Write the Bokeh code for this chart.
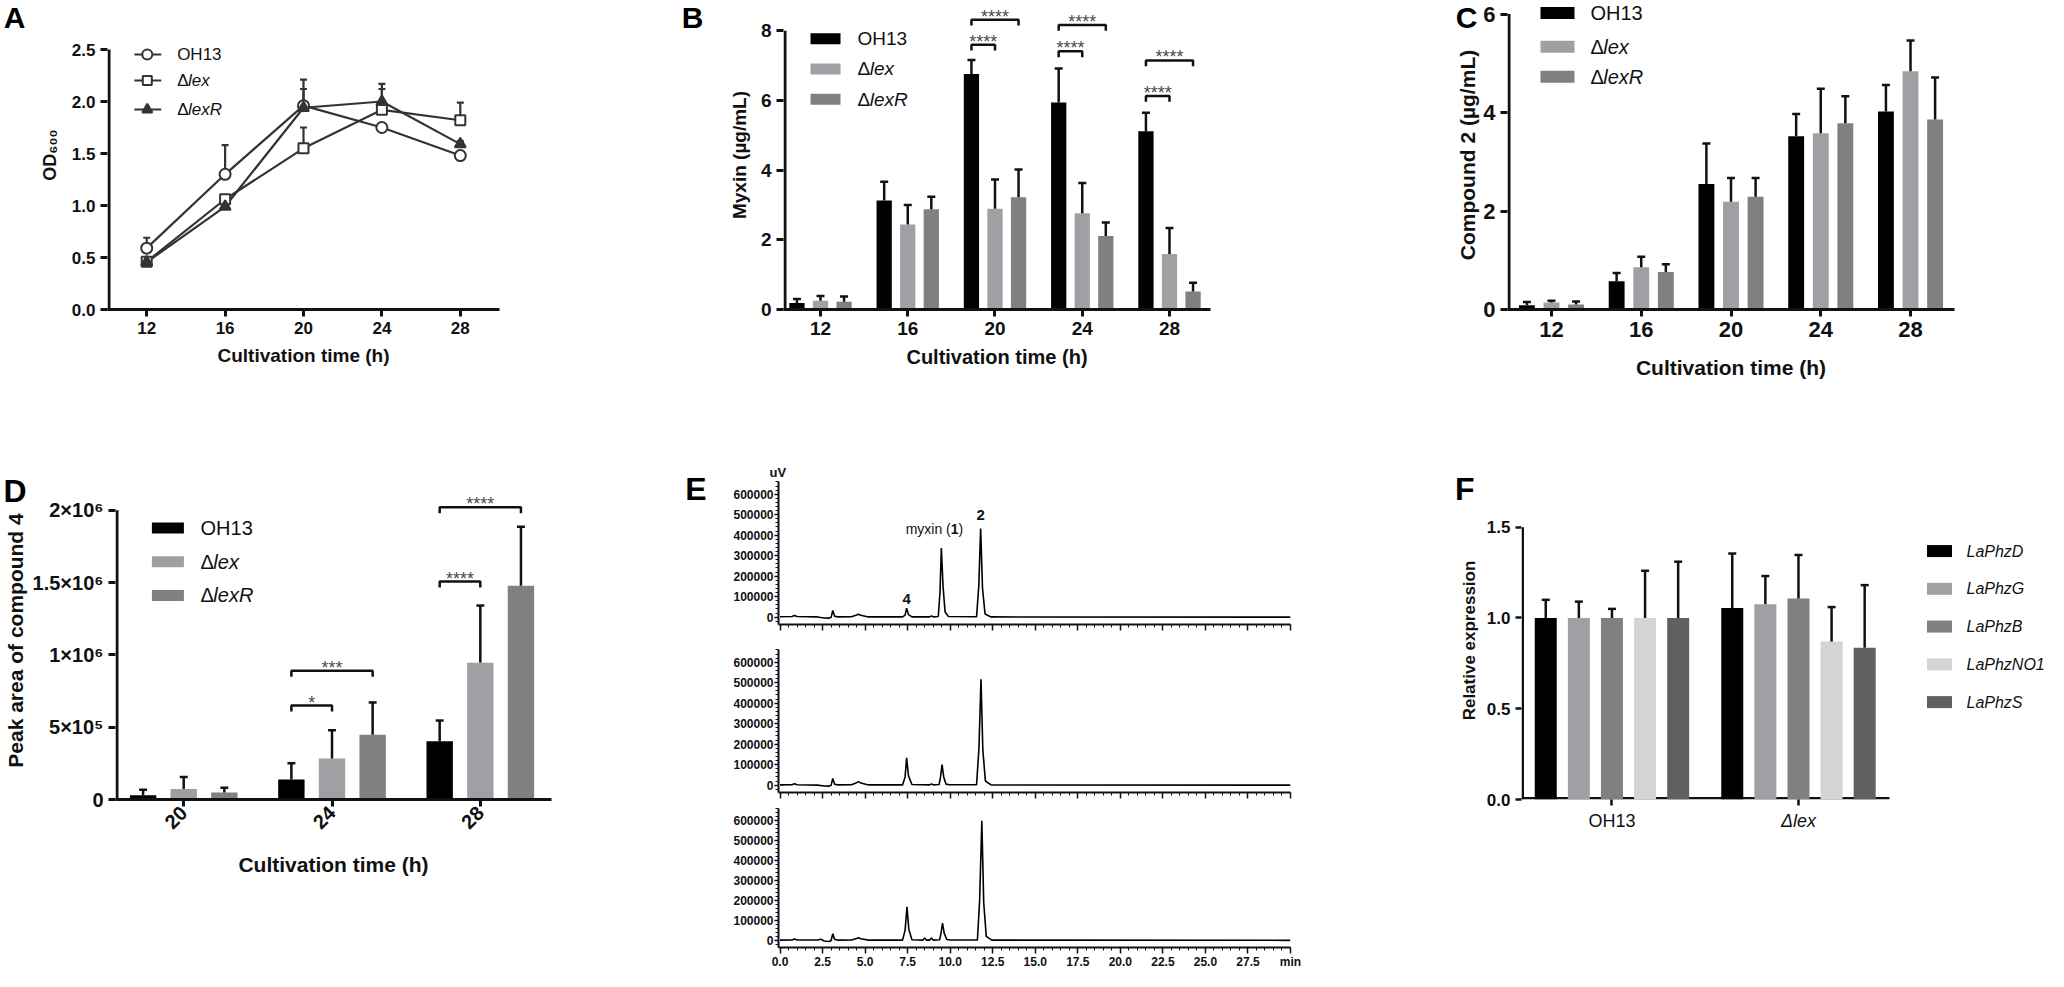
import math
from bokeh.plotting import figure
from bokeh.models import FixedTicker, NumeralTickFormatter, Range1d, LinearAxis, Title
from bokeh.layouts import row, column
from bokeh.embed import file_html
from bokeh.resources import INLINE
from bokeh.core.properties import value

SANS = "Liberation Sans"
INK = "#111111"
LINE = "#333333"
STAR = "#4a4a4a"

# ---------------- data ----------------
hours = [12, 16, 20, 24, 28]
strains = ["OH13", "Δlex", "ΔlexR"]
strain_colors = ["#000000", "#a0a0a4", "#808080"]

# A: growth (OD600)
od_oh13 = [0.59, 1.30, 1.96, 1.75, 1.48]
od_oh13_sd = [0.10, 0.28, 0.25, 0.03, 0.02]
od_lex = [0.46, 1.06, 1.55, 1.92, 1.82]
od_lex_sd = [0.04, 0.04, 0.20, 0.20, 0.17]
od_lexr = [0.455, 0.99, 1.94, 2.00, 1.59]
od_lexr_sd = [0.02, 0.03, 0.18, 0.17, 0.03]

# B: myxin (ug/mL)
myxin_oh13 = [0.19, 3.13, 6.76, 5.94, 5.12]
myxin_oh13_sd = [0.11, 0.54, 0.40, 0.98, 0.53]
myxin_lex = [0.25, 2.44, 2.89, 2.76, 1.59]
myxin_lex_sd = [0.14, 0.56, 0.84, 0.87, 0.75]
myxin_lexr = [0.22, 2.88, 3.22, 2.11, 0.52]
myxin_lexr_sd = [0.15, 0.36, 0.80, 0.39, 0.25]
myxin_sig_pairs = [(2, 0, 1, "****"), (2, 0, 2, "****"), (3, 0, 1, "****"),
                   (3, 0, 2, "****"), (4, 0, 1, "****"), (4, 0, 2, "****")]
myxin_sig_levels = [7.60, 8.32, 7.41, 8.17, 6.13, 7.15]

# C: compound 2 (ug/mL)
c2_oh13 = [0.085, 0.575, 2.55, 3.52, 4.02]
c2_oh13_sd = [0.065, 0.165, 0.82, 0.45, 0.54]
c2_lex = [0.14, 0.86, 2.19, 3.58, 4.84]
c2_lex_sd = [0.04, 0.21, 0.48, 0.90, 0.62]
c2_lexr = [0.10, 0.76, 2.29, 3.78, 3.86]
c2_lexr_sd = [0.06, 0.16, 0.38, 0.55, 0.85]

# D: peak area of compound 4
hours_d = [20, 24, 28]
pa_oh13 = [29000, 139000, 402000]
pa_oh13_sd = [38000, 112000, 144000]
pa_lex = [72000, 283000, 946000]
pa_lex_sd = [84000, 196000, 395000]
pa_lexr = [48000, 448000, 1478000]
pa_lexr_sd = [33000, 223000, 407000]
pa_sig_pairs = [(1, 0, 1, "*"), (1, 0, 2, "***"), (2, 0, 1, "****"), (2, 0, 2, "****")]
pa_sig_levels = [650000, 890000, 1507000, 2020000]
pa_ticks = [0, 500000, 1000000, 1500000, 2000000]
pa_tick_labels = ["0", "5×10⁵", "1×10⁶", "1.5×10⁶", "2×10⁶"]

# E: HPLC traces (min, uV)
e_oh13_t = [0.0, 0.7, 0.85, 1.0, 2.2, 2.6, 2.9, 3.0, 3.1, 3.2, 3.4, 4.2, 4.5, 4.6, 4.75, 5.2,
            7.2, 7.35, 7.44, 7.55, 7.75, 8.8, 8.9, 9.0, 9.3, 9.4, 9.48, 9.58, 9.7, 9.9,
            11.55, 11.68, 11.79, 11.9, 12.05, 12.4, 30.0]
e_oh13_uv = [2000, 3000, 8000, 3000, 1000, -4000, -5000, -1000, 32000, 5000, 1000, 2000, 10000, 14000, 9000, 1000,
             1000, 10000, 44000, 12000, 1000, 1000, 6000, 1000, 3000, 120000, 337000, 150000, 25000, 3000,
             2000, 150000, 432000, 140000, 15000, 1000, 0]
e_lex_t = [0.0, 0.7, 0.85, 1.0, 2.2, 2.6, 2.9, 3.0, 3.1, 3.2, 3.4, 4.2, 4.5, 4.6, 4.75, 5.2,
           7.2, 7.35, 7.44, 7.55, 7.75, 8.8, 8.9, 9.0, 9.35, 9.43, 9.52, 9.62, 9.75, 9.95,
           11.55, 11.69, 11.81, 11.92, 12.07, 12.4, 30.0]
e_lex_uv = [1000, 2000, 7000, 2000, 0, -4000, -5000, -1000, 33000, 5000, 1000, 2000, 12000, 17000, 10000, 1000,
            1000, 40000, 133000, 45000, 3000, 1000, 6000, 1000, 3000, 40000, 100000, 40000, 5000, 2000,
            2000, 180000, 517000, 170000, 20000, 1000, 0]
e_lexr_t = [0.0, 0.7, 0.85, 1.0, 2.2, 2.4, 2.6, 2.9, 3.0, 3.1, 3.2, 3.4, 4.2, 4.5, 4.6, 4.75, 5.2,
            7.2, 7.35, 7.46, 7.57, 7.75, 8.4, 8.5, 8.6, 8.8, 8.9, 9.0, 9.38, 9.46, 9.55, 9.65, 9.8, 10.0,
            11.6, 11.73, 11.86, 11.97, 12.12, 12.45, 30.0]
e_lexr_uv = [1000, 2000, 7000, 2000, 2000, 5000, -3000, -6000, -1000, 33000, 5000, 1000, 2000, 9000, 13000, 8000, 1000,
             1000, 50000, 168000, 55000, 3000, 1000, 12000, 1000, 1000, 12000, 1000, 3000, 35000, 87000, 35000, 4000, 2000,
             2000, 200000, 600000, 190000, 20000, 1000, 0]
e_x_ticks = [0.0, 2.5, 5.0, 7.5, 10.0, 12.5, 15.0, 17.5, 20.0, 22.5, 25.0, 27.5, 30.0]
e_y_ticks = [0, 100000, 200000, 300000, 400000, 500000, 600000]
e_peak_labels = [(7.44, 90000, "4"), (11.79, 497000, "2")]
e_myxin_label = (9.07, 428000)

# F: relative expression
genes = ["LaPhzD", "LaPhzG", "LaPhzB", "LaPhzNO1", "LaPhzS"]
gene_colors = ["#000000", "#a0a0a4", "#808080", "#d4d4d4", "#606060"]
f_groups = ["OH13", "Δlex"]
expr_oh13 = [1.0, 1.0, 1.0, 1.0, 1.0]
expr_oh13_sd = [0.10, 0.09, 0.05, 0.26, 0.31]
expr_lex = [1.055, 1.076, 1.107, 0.87, 0.836]
expr_lex_sd = [0.30, 0.155, 0.24, 0.19, 0.345]


# ---------------- helpers ----------------
class Panel:
    def __init__(self, fig_box, frame_box, xr, yr):
        fx, fy, fw, fh = fig_box
        l, r, t, b = frame_box
        self.l, self.r, self.t, self.b = frame_box
        self.xr, self.yr = xr, yr
        self.p = figure(width=fw, height=fh,
                        x_range=Range1d(start=xr[0], end=xr[1]),
                        y_range=Range1d(start=yr[0], end=yr[1]),
                        output_backend="svg", toolbar_location=None, title=None,
                        min_border_left=l - fx, min_border_right=fx + fw - r,
                        min_border_top=t - fy, min_border_bottom=fy + fh - b)
        self.p.xgrid.visible = False
        self.p.ygrid.visible = False
        self.p.outline_line_color = None
        self.sx = (r - l) / (xr[1] - xr[0])
        self.sy = (b - t) / (yr[1] - yr[0])

    def X(self, px):
        return self.xr[0] + (px - self.l) / self.sx

    def Y(self, py):
        return self.yr[1] - (py - self.t) / self.sy

    def dx(self, n):
        return n / self.sx

    def dy(self, n):
        return n / self.sy

    def y_axis_line(self, y0, y1, lw=3):
        # axis line limited to the tick span (the frame extends higher for annotations)
        self.p.yaxis.axis_line_color = None
        x = self.X(self.l + lw / 2)
        self.p.line(x=[x, x], y=[y0, y1], line_color=INK, line_width=lw)

    def x_axis_line(self, x0, x1, lw=3):
        self.p.xaxis.axis_line_color = None
        y = self.Y(self.b - lw / 2)
        self.p.line(x=[x0, x1], y=[y, y], line_color=INK, line_width=lw)


def style_axis(ax, lw=3, tick_out=7, font=SANS, size="17px", style="bold",
               standoff=5, title_size="19px", title_standoff=8, title_font=SANS):
    ax.axis_line_width = lw
    ax.axis_line_color = INK
    ax.major_tick_line_width = lw
    ax.major_tick_line_color = INK
    ax.major_tick_out = tick_out
    ax.major_tick_in = 0
    ax.minor_tick_line_color = None
    ax.major_label_text_font = font
    ax.major_label_text_font_size = size
    ax.major_label_text_font_style = style
    ax.major_label_text_color = INK
    ax.major_label_standoff = standoff
    ax.axis_label_text_font = title_font
    ax.axis_label_text_font_size = title_size
    ax.axis_label_text_font_style = "bold"
    ax.axis_label_text_color = INK
    ax.axis_label_standoff = title_standoff


def label_axis(panel, side, ticks, labels, standoff, size, style="bold", color="#000000"):
    # an extra, line-less and tick-less axis whose only job is to print given labels
    ax = LinearAxis(ticker=FixedTicker(ticks=ticks), major_label_overrides=dict(zip(ticks, labels)))
    ax.axis_line_color = None
    ax.major_tick_line_color = None
    ax.minor_tick_line_color = None
    ax.major_tick_out = 0
    ax.major_tick_in = 0
    ax.major_label_standoff = standoff
    ax.major_label_text_font = SANS
    ax.major_label_text_font_size = size
    ax.major_label_text_font_style = style
    ax.major_label_text_color = color
    panel.p.add_layout(ax, side)


def letter(panel, s, py_center, standoff, size="31px"):
    label_axis(panel, "left", [panel.Y(py_center)], [s], standoff, size)


def txt(p, x, y, s, size, font=SANS, style="normal", align="left", baseline="middle",
        color=INK, xoff=0):
    p.text(x=[x], y=[y], text=[s], text_font=value(font), text_font_size=value(size),
           text_font_style=style, text_align=align, text_baseline=baseline,
           text_color=color, x_offset=xoff)


def strain_label(p, x, y, s, size_px, font=SANS):
    if s.startswith("Δ"):
        txt(p, x, y, "Δ", f"{size_px}px", font=font)
        txt(p, x, y, s[1:], f"{size_px}px", font=font, style="italic", xoff=0.64 * size_px)
    else:
        txt(p, x, y, s, f"{size_px}px", font=font)


def bars(panel, series, sds, colors, d, w, cap_px=4.0, lw=2.5):
    p = panel.p
    n = len(series)
    ch = panel.dx(cap_px)
    for k, (vals, sd, c) in enumerate(zip(series, sds, colors)):
        xs = [i + (k - (n - 1) / 2) * d for i in range(len(vals))]
        p.vbar(x=xs, top=vals, bottom=0, width=w, fill_color=c, line_color=None)
        up = [v + e for v, e in zip(vals, sd)]
        p.segment(x0=xs, y0=vals, x1=xs, y1=up, line_color=INK, line_width=lw)
        p.segment(x0=[x - ch for x in xs], y0=up, x1=[x + ch for x in xs], y1=up,
                  line_color=INK, line_width=lw)


def brackets(panel, pairs, levels, n, d, tick_px=6, lw=2.5, star_size=18):
    p = panel.p
    for (g, s0, s1, lab), yl in zip(pairs, levels):
        x0 = g + (s0 - (n - 1) / 2) * d
        x1 = g + (s1 - (n - 1) / 2) * d
        yt = yl - panel.dy(tick_px)
        p.line(x=[x0, x0, x1, x1], y=[yt, yl, yl, yt], line_color=INK, line_width=lw)
        txt(p, (x0 + x1) / 2, yl + panel.dy(3.0), lab, f"{star_size}px", align="center",
            baseline="alphabetic", color=STAR)


def bar_legend(panel, px_swatch, px_text, py_list, labels, colors, size_px, sw=30, sh=11,
               italic_all=False):
    p = panel.p
    for py, lab, c in zip(py_list, labels, colors):
        y = panel.Y(py)
        p.rect(x=[panel.X(px_swatch)], y=[y], width=sw, height=sh, width_units="screen",
               height_units="screen", fill_color=c, line_color=None)
        if italic_all:
            txt(p, panel.X(px_text), y, lab, f"{size_px}px", style="italic")
        else:
            strain_label(p, panel.X(px_text), y, lab, size_px)


# ---------------- panel A ----------------
A = Panel((8, 8, 552, 425), (113, 507, 8, 317), (10, 30), (0, 2.5 + 49 / 104.0))
pa = A.p
pa.xaxis.ticker = FixedTicker(ticks=hours)
pa.yaxis.ticker = FixedTicker(ticks=[0, 0.5, 1.0, 1.5, 2.0, 2.5])
pa.yaxis.formatter = NumeralTickFormatter(format="0.0")
style_axis(pa.xaxis[0], size="17px", title_size="19px", title_standoff=8)
style_axis(pa.yaxis[0], size="17px", title_size="18px", title_standoff=9)
pa.xaxis.axis_label = "Cultivation time (h)"
pa.yaxis.axis_label = "OD₆₀₀"
A.y_axis_line(0, 2.5)
series_a = [(od_oh13, od_oh13_sd, "circle", "white", 11),
            (od_lex, od_lex_sd, "square", "white", 10),
            (od_lexr, od_lexr_sd, "triangle", LINE, 11)]
for vals, sd, mk, fill, sz in series_a:
    pa.line(hours, vals, line_color=LINE, line_width=2.2)
cha = A.dx(3.5)
for vals, sd, mk, fill, sz in series_a:
    up = [v + e for v, e in zip(vals, sd)]
    pa.segment(x0=hours, y0=vals, x1=hours, y1=up, line_color=LINE, line_width=2.2)
    pa.segment(x0=[h - cha for h in hours], y0=up, x1=[h + cha for h in hours], y1=up,
               line_color=LINE, line_width=2.2)
for vals, sd, mk, fill, sz in series_a:
    pa.scatter(hours, vals, marker=mk, size=sz, fill_color=fill, line_color=LINE, line_width=2)
for (vals, sd, mk, fill, sz), py, lab in zip(series_a, [62, 88, 117], strains):
    y = A.Y(py)
    pa.line(x=[A.X(140), A.X(167)], y=[y, y], line_color=LINE, line_width=2.2)
    pa.scatter([A.X(153)], [y], marker=mk, size=sz - 1, fill_color=fill, line_color=LINE, line_width=2)
    strain_label(pa, A.X(183), y, lab, 17)
letter(A, "A", 25, 11, size="30px")

# ---------------- panel B ----------------
B = Panel((560, 8, 700, 425), (791, 1218, 8, 324), (-0.424, 4.47), (0, 316 / 35.625))
pb = B.p
pb.xaxis.ticker = FixedTicker(ticks=list(range(len(hours))))
pb.xaxis.major_label_overrides = {i: str(h) for i, h in enumerate(hours)}
pb.yaxis.ticker = FixedTicker(ticks=[0, 2, 4, 6, 8])
style_axis(pb.xaxis[0], size="19px", title_size="20px", title_standoff=8)
style_axis(pb.yaxis[0], size="19px", title_size="19px", title_standoff=8)
pb.xaxis.axis_label = "Cultivation time (h)"
pb.yaxis.axis_label = "Myxin (µg/mL)"
B.y_axis_line(0, 8)
bars(B, [myxin_oh13, myxin_lex, myxin_lexr], [myxin_oh13_sd, myxin_lex_sd, myxin_lexr_sd],
     strain_colors, d=0.27, w=0.175)
brackets(B, myxin_sig_pairs, myxin_sig_levels, 3, 0.27)
bar_legend(B, 833, 865, [47, 78, 109], strains, strain_colors, 19)
letter(B, "B", 25, 22, size="30px")

# ---------------- panel C ----------------
C = Panel((1260, 8, 796, 425), (1515, 1962, 8, 328), (-0.49, 4.49), (0, 6 + 14 / 51.0))
pc = C.p
pc.xaxis.ticker = FixedTicker(ticks=list(range(len(hours))))
pc.xaxis.major_label_overrides = {i: str(h) for i, h in enumerate(hours)}
pc.yaxis.ticker = FixedTicker(ticks=[0, 2, 4, 6])
style_axis(pc.xaxis[0], size="22px", title_size="21px", title_standoff=16)
style_axis(pc.yaxis[0], size="22px", title_size="21px", title_standoff=1)
pc.xaxis.axis_label = "Cultivation time (h)"
pc.yaxis.axis_label = "Compound 2 (µg/mL)"
C.y_axis_line(0, 6)
bars(C, [c2_oh13, c2_lex, c2_lexr], [c2_oh13_sd, c2_lex_sd, c2_lexr_sd],
     strain_colors, d=0.274, w=0.177)
bar_legend(C, 1565, 1598, [21, 56, 87], strains, strain_colors, 20, sw=34, sh=12)
letter(C, "C", 25, -24, size="30px")

# ---------------- panel D ----------------
D = Panel((8, 433, 642, 546), (118, 559, 486, 807), (-0.46, 2.48), (0, 2000000 * 321 / 292))
pd_ = D.p
pd_.xaxis.ticker = FixedTicker(ticks=list(range(len(hours_d))))
pd_.xaxis.major_label_overrides = {i: str(h) for i, h in enumerate(hours_d)}
pd_.xaxis.major_label_orientation = math.pi / 4
pd_.yaxis.ticker = FixedTicker(ticks=pa_ticks)
pd_.yaxis.major_label_overrides = dict(zip(pa_ticks, pa_tick_labels))
style_axis(pd_.xaxis[0], size="20px", title_size="21px", standoff=3, title_standoff=15)
style_axis(pd_.yaxis[0], size="20px", title_size="21px", title_standoff=3)
pd_.xaxis.axis_label = "Cultivation time (h)"
pd_.yaxis.axis_label = "Peak area of compound 4"
D.y_axis_line(0, 2000000)
bars(D, [pa_oh13, pa_lex, pa_lexr], [pa_oh13_sd, pa_lex_sd, pa_lexr_sd],
     strain_colors, d=0.274, w=0.178)
brackets(D, pa_sig_pairs, pa_sig_levels, 3, 0.274)
bar_legend(D, 171, 204, [533, 567, 601], strains, strain_colors, 20, sw=32)
letter(D, "D", 496, -26, size="32px")

# ---------------- panel E ----------------
e_traces = [(e_oh13_t, e_oh13_uv), (e_lex_t, e_lex_uv), (e_lexr_t, e_lexr_uv)]
e_boxes = [((650, 433, 750, 210), (786, 1298, 489, 632)),
           ((650, 643, 750, 165), (786, 1298, 657, 800)),
           ((650, 808, 750, 171), (786, 1298, 816, 959))]
e_panels = []
for idx, ((tt, uv), (fb, frb)) in enumerate(zip(e_traces, e_boxes)):
    E = Panel(fb, frb, (-0.09, 30), (-36000, 662000))
    pe = E.p
    pe.xaxis.ticker = FixedTicker(ticks=e_x_ticks, minor_ticks=[i * 0.5 for i in range(61)])
    pe.xaxis.formatter = NumeralTickFormatter(format="0.0")
    pe.xaxis.major_label_overrides = {30: "min"}
    pe.yaxis.ticker = FixedTicker(ticks=e_y_ticks,
                                  minor_ticks=[-20000 + 20000 * i for i in range(35)])
    pe.yaxis.formatter = NumeralTickFormatter(format="0")
    for ax, out in ((pe.xaxis[0], 6), (pe.yaxis[0], 4)):
        style_axis(ax, lw=2, tick_out=out, size="12px", standoff=1)
        ax.major_tick_line_width = 1.5
        ax.minor_tick_line_color = INK
        ax.minor_tick_line_width = 1
        ax.minor_tick_out = 3
        ax.minor_tick_in = 0
    if idx < 2:
        pe.xaxis.major_label_text_color = None
    pe.line(tt, uv, line_color="#000000", line_width=1.6)
    e_panels.append(E)

E1 = e_panels[0]
pe1 = E1.p
for tx, ty, s in e_peak_labels:
    txt(pe1, tx, ty, s, "15px", style="bold", align="center")
mx, my = e_myxin_label
txt(pe1, mx, my, "myxin (", "14px", xoff=-28.7)
txt(pe1, mx, my, "1", "14px", style="bold", xoff=-28.7 + 45.1)
txt(pe1, mx, my, ")", "14px", xoff=-28.7 + 45.1 + 7.8)
pe1.add_layout(Title(text="uV", align="left", offset=-9, standoff=4, vertical_align="bottom",
                     text_font=SANS, text_font_size="13px", text_font_style="bold",
                     text_color=INK), "above")
letter(E1, "E", 496.5, 24, size="32px")

# ---------------- panel F ----------------
F = Panel((1400, 433, 656, 546), (1529, 2056, 489, 809), (-0.485, 1.488 + 159 / 186.5),
          (0, 1.5 + 46 / (274 / 1.5)))
pf = F.p
pf.xaxis.ticker = FixedTicker(ticks=[0, 1])
pf.yaxis.ticker = FixedTicker(ticks=[0, 0.5, 1.0, 1.5])
pf.yaxis.formatter = NumeralTickFormatter(format="0.0")
style_axis(pf.xaxis[0], lw=2.5, tick_out=6, size="18px", style="normal", standoff=5)
pf.xaxis.major_label_text_color = None          # group names printed by the two label axes below
style_axis(pf.yaxis[0], lw=2.5, tick_out=6, size="17px", style="bold",
           title_size="17px", title_standoff=5)
pf.yaxis.axis_label = "Relative expression"
F.y_axis_line(0, 1.5, lw=2.5)
F.x_axis_line(-0.485, 1.488, lw=2.5)
label_axis(F, "below", [0], [f_groups[0]], 5, "18px", style="normal", color=INK)
label_axis(F, "below", [1], [f_groups[1]], -23, "18px", style="italic", color=INK)
f_series = [[o, l] for o, l in zip(expr_oh13, expr_lex)]
f_sds = [[o, l] for o, l in zip(expr_oh13_sd, expr_lex_sd)]
bars(F, f_series, f_sds, gene_colors, d=0.1775, w=0.118, cap_px=4.0, lw=2.5)
bar_legend(F, 1947, 1974, [559, 597, 635, 673, 711], genes, gene_colors, 16, sw=25, sh=12,
           italic_all=True)
letter(F, "F", 497, -18, size="32px")

layout = column(row(A.p, B.p, C.p),
                row(D.p, column(*[e.p for e in e_panels]), F.p))

open("out.html", "w").write(file_html(layout, INLINE))
